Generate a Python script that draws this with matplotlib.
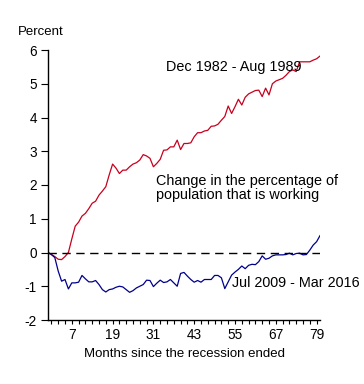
import matplotlib
matplotlib.use("Agg")
import matplotlib.pyplot as plt
import numpy as np

plt.rcParams['font.family'] = ['Liberation Sans', 'DejaVu Sans']

months = list(range(81))
red_1982 = [0, -0.06, -0.12, -0.2, -0.21, -0.12, 0.0, 0.4, 0.78, 0.9,
            1.08, 1.16, 1.3, 1.46, 1.52, 1.7, 1.82, 1.95, 2.3, 2.62,
            2.5, 2.34, 2.44, 2.44, 2.54, 2.62, 2.66, 2.74, 2.9, 2.86,
            2.79, 2.54, 2.64, 2.76, 3.03, 3.04, 3.13, 3.13, 3.33, 3.05,
            3.23, 3.23, 3.25, 3.43, 3.55, 3.55, 3.6, 3.62, 3.74, 3.75,
            3.8, 3.92, 4.03, 4.34, 4.12, 4.32, 4.54, 4.37, 4.6, 4.7,
            4.75, 4.8, 4.81, 4.62, 4.87, 4.67, 5.0, 5.08, 5.12, 5.16,
            5.25, 5.36, 5.41, 5.36, 5.65, 5.65, 5.65, 5.65, 5.7, 5.74,
            5.82]
blue_2009 = [0, -0.06, -0.15, -0.55, -0.85, -0.8, -1.08, -0.9, -0.9, -0.88,
             -0.68, -0.78, -0.87, -0.87, -0.83, -0.95, -1.1, -1.17, -1.1, -1.08,
             -1.03, -1.0, -1.02, -1.1, -1.18, -1.13, -1.05, -1.0, -0.95, -0.82,
             -0.83, -1.01, -0.91, -0.82, -0.89, -0.87, -0.8, -0.9, -1.0, -0.62,
             -0.59, -0.7, -0.8, -0.88, -0.83, -0.88, -0.8, -0.8, -0.8, -0.68,
             -0.68, -0.75, -1.07, -0.87, -0.67, -0.58, -0.5, -0.4, -0.48, -0.38,
             -0.35, -0.36, -0.27, -0.1, -0.2, -0.17, -0.1, -0.07, -0.07, -0.07,
             -0.06, -0.02, -0.07, -0.03, -0.02, -0.07, -0.06, 0.07, 0.22, 0.32,
             0.5]
x_major = [7, 19, 31, 43, 55, 67, 79]
x_minor = list(range(1, 81, 2))
y_ticks = [-2, -1, 0, 1, 2, 3, 4, 5, 6]

fig = plt.figure(figsize=(3.64, 3.84), dpi=100)
ax = fig.add_axes([48/364, 1-320/384, 272/364, 270/384])

ax.plot(months, red_1982, color='#c8001e', lw=0.9)
ax.plot(months, blue_2009, color='#00008f', lw=0.9)
ax.axhline(0, color='black', lw=1.0, dashes=(6, 4))

ax.set_xlim(0, 80)
ax.set_ylim(-2, 6)
ax.set_yticks(y_ticks)
ax.set_yticklabels([str(v) for v in y_ticks], fontsize=9.8)
ax.set_xticks(x_minor)
ax.set_xticklabels([str(v) if v in x_major else '' for v in x_minor], fontsize=9.8)
ax.tick_params(axis='x', length=3, width=0.8, pad=3)
ax.tick_params(axis='y', length=5, width=0.8, pad=3)
for s in ['top', 'right']:
    ax.spines[s].set_visible(False)
for s in ['left', 'bottom']:
    ax.spines[s].set_linewidth(1.0)

ax.set_xlabel('Months since the recession ended', fontsize=9.5, labelpad=4)
fig.text(18/364, 1-32/384, 'Percent', fontsize=9.5, va='center', ha='left')

ax.text(166/364, 1-67/384, 'Dec 1982 - Aug 1989', transform=fig.transFigure,
        fontsize=10.4, va='center', ha='left')
ax.text(156/364, 1-188/384, 'Change in the percentage of\npopulation that is working',
        transform=fig.transFigure, fontsize=10.4, va='center', ha='left', linespacing=1.0)
ax.text(232/364, 1-283/384, 'Jul 2009 - Mar 2016', transform=fig.transFigure,
        fontsize=10.4, va='center', ha='left', clip_on=False)

fig.savefig('out.png', dpi=100)
